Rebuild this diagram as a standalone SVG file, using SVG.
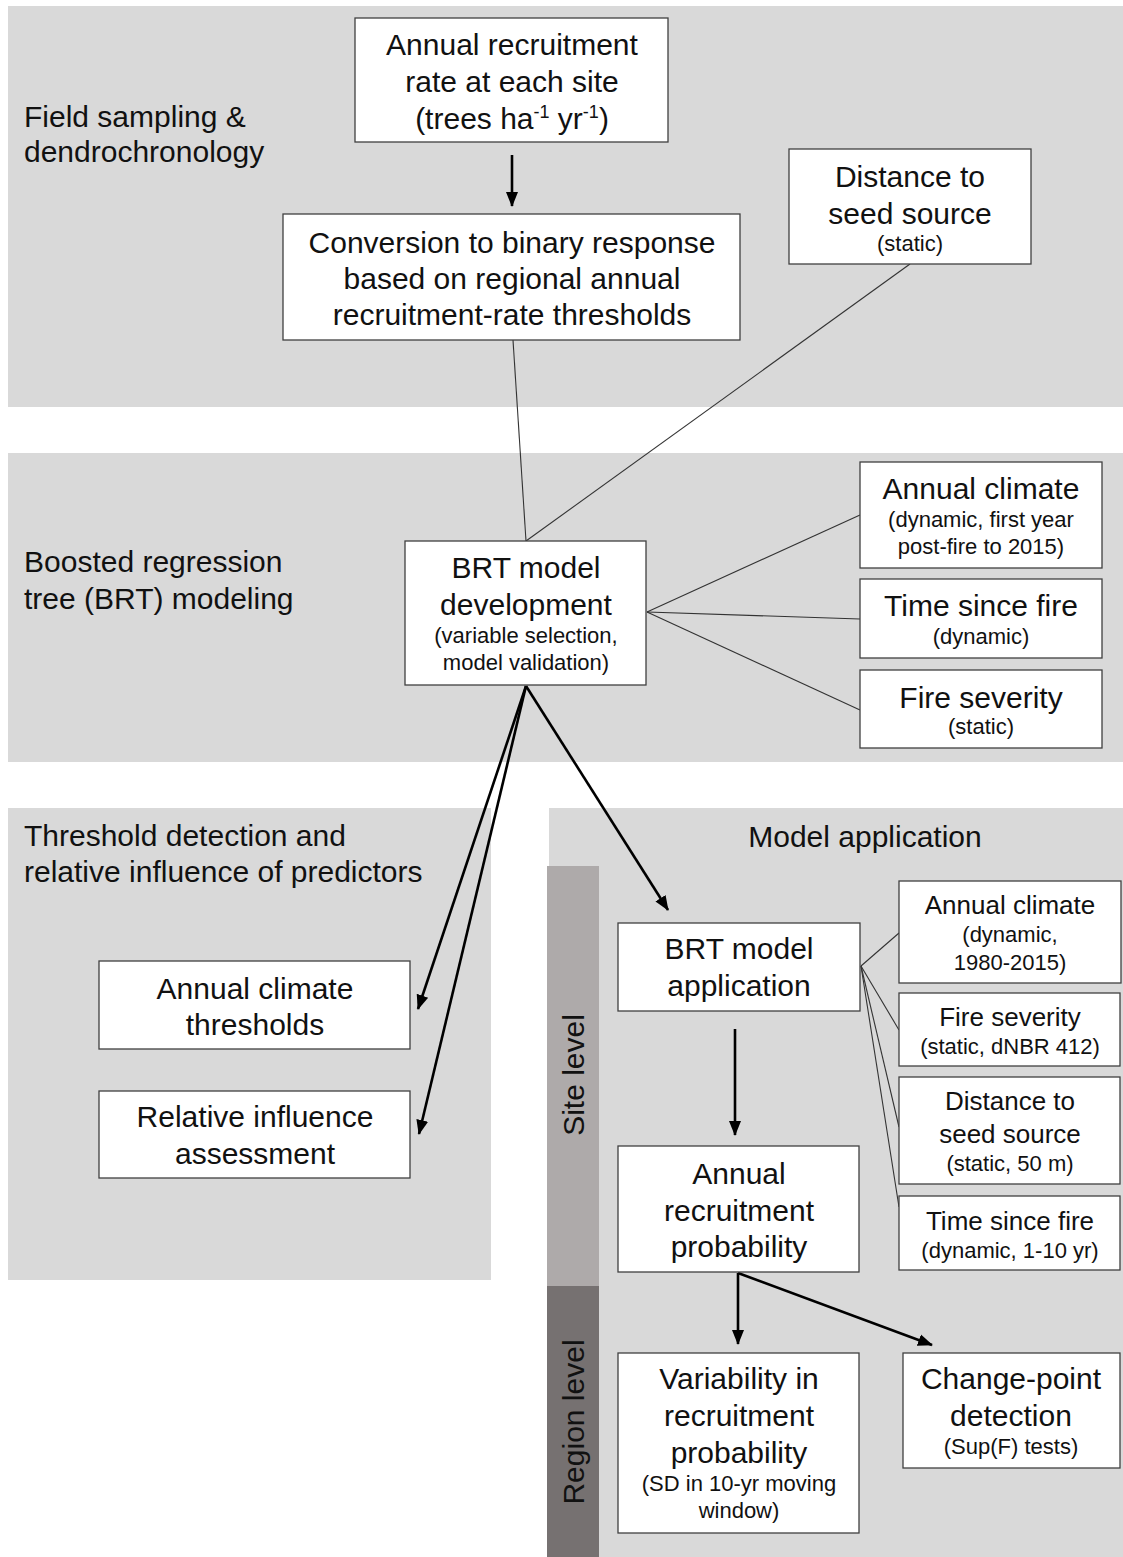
<svg xmlns="http://www.w3.org/2000/svg" width="1123" height="1557" viewBox="0 0 1123 1557">
<style>
.band{fill:#d9d9d9}
.box{fill:#fff;stroke:#404040;stroke-width:1.3}
text{font-family:"Liberation Sans",Arial,sans-serif;fill:#111}
.t{font-size:30px;text-anchor:middle}
.m{font-size:26px;text-anchor:middle}
.s{font-size:22px;text-anchor:middle}
.lab{font-size:30px}
.thin{stroke:#333;stroke-width:1.1;fill:none}
.arr{stroke:#000;stroke-width:2.6;fill:none;marker-end:url(#ah)}
</style>
<defs>
<marker id="ah" markerUnits="userSpaceOnUse" markerWidth="16" markerHeight="16" viewBox="0 0 16 16" refX="14" refY="8" orient="auto">
<path d="M0,2 L15,8 L0,14 Z" fill="#000"/>
</marker>
</defs>
<g id="backgrounds">
<rect class="band" x="8" y="6" width="1115" height="401"/>
<rect class="band" x="8" y="453" width="1115" height="309"/>
<rect class="band" x="8" y="808" width="483" height="472"/>
<rect class="band" x="549" y="808" width="574" height="749"/>
<rect x="547" y="866" width="52" height="420" fill="#aeaaaa"/>
<rect x="547" y="1286" width="52" height="271" fill="#767171"/>
</g>
<g id="section-labels">
<text class="lab" x="24" y="127">Field sampling &amp;</text>
<text class="lab" x="24" y="162">dendrochronology</text>
<text class="lab" x="24" y="572">Boosted regression</text>
<text class="lab" x="24" y="609">tree (BRT) modeling</text>
<text class="lab" x="24" y="846">Threshold detection and</text>
<text class="lab" x="24" y="882">relative influence of predictors</text>
<text class="t" x="865" y="847">Model application</text>
<text class="t" transform="translate(584,1075) rotate(-90)">Site level</text>
<text class="t" transform="translate(584,1422) rotate(-90)">Region level</text>
</g>
<g id="connectors">
<line class="arr" x1="512" y1="155" x2="512" y2="206"/>
<line class="thin" x1="513" y1="340" x2="526" y2="541"/>
<line class="thin" x1="910" y1="264" x2="526" y2="541"/>
<line class="thin" x1="647" y1="612" x2="860" y2="515"/>
<line class="thin" x1="647" y1="612" x2="860" y2="619"/>
<line class="thin" x1="647" y1="612" x2="860" y2="710"/>
<line class="arr" x1="526" y1="686" x2="418" y2="1009"/>
<line class="arr" x1="526" y1="686" x2="419" y2="1134"/>
<line class="arr" x1="526" y1="686" x2="668" y2="910"/>
<line class="arr" x1="735" y1="1029" x2="735" y2="1135"/>
<line class="thin" x1="861" y1="966" x2="899" y2="933"/>
<line class="thin" x1="861" y1="966" x2="899" y2="1030"/>
<line class="thin" x1="861" y1="966" x2="899" y2="1127"/>
<line class="thin" x1="861" y1="966" x2="899" y2="1207"/>
<line class="arr" x1="738" y1="1273" x2="738" y2="1344"/>
<line class="arr" x1="738" y1="1273" x2="932" y2="1345"/>
</g>
<g id="n-recruitment-rate">
<rect class="box" x="355" y="18" width="313" height="124"/>
<text class="t" x="512" y="55">Annual recruitment</text>
<text class="t" x="512" y="92">rate at each site</text>
<text class="t" x="512" y="129">(trees ha<tspan font-size="18" dy="-11">-1</tspan><tspan dy="11"> yr</tspan><tspan font-size="18" dy="-11">-1</tspan><tspan dy="11">)</tspan></text>
</g>
<g id="n-conversion">
<rect class="box" x="283" y="214" width="457" height="126"/>
<text class="t" x="512" y="253">Conversion to binary response</text>
<text class="t" x="512" y="289">based on regional annual</text>
<text class="t" x="512" y="325">recruitment-rate thresholds</text>
</g>
<g id="n-distance-top">
<rect class="box" x="789" y="149" width="242" height="115"/>
<text class="t" x="910" y="187">Distance to</text>
<text class="t" x="910" y="224">seed source</text>
<text class="s" x="910" y="251">(static)</text>
</g>
<g id="n-brt-dev">
<rect class="box" x="405" y="541" width="241" height="144"/>
<text class="t" x="526" y="578">BRT model</text>
<text class="t" x="526" y="615">development</text>
<text class="s" x="526" y="643">(variable selection,</text>
<text class="s" x="526" y="670">model validation)</text>
</g>
<g id="n-climate-top">
<rect class="box" x="860" y="462" width="242" height="106"/>
<text class="t" x="981" y="499">Annual climate</text>
<text class="s" x="981" y="527">(dynamic, first year</text>
<text class="s" x="981" y="554">post-fire to 2015)</text>
</g>
<g id="n-tsf-top">
<rect class="box" x="860" y="579" width="242" height="79"/>
<text class="t" x="981" y="616">Time since fire</text>
<text class="s" x="981" y="644">(dynamic)</text>
</g>
<g id="n-severity-top">
<rect class="box" x="860" y="670" width="242" height="78"/>
<text class="t" x="981" y="708">Fire severity</text>
<text class="s" x="981" y="734">(static)</text>
</g>
<g id="n-climate-thresholds">
<rect class="box" x="99" y="961" width="311" height="88"/>
<text class="t" x="255" y="999">Annual climate</text>
<text class="t" x="255" y="1035">thresholds</text>
</g>
<g id="n-relative-influence">
<rect class="box" x="99" y="1091" width="311" height="87"/>
<text class="t" x="255" y="1127">Relative influence</text>
<text class="t" x="255" y="1164">assessment</text>
</g>
<g id="n-brt-app">
<rect class="box" x="618" y="923" width="242" height="88"/>
<text class="t" x="739" y="959">BRT model</text>
<text class="t" x="739" y="996">application</text>
</g>
<g id="n-probability">
<rect class="box" x="618" y="1146" width="241" height="126"/>
<text class="t" x="739" y="1184">Annual</text>
<text class="t" x="739" y="1221">recruitment</text>
<text class="t" x="739" y="1257">probability</text>
</g>
<g id="n-variability">
<rect class="box" x="618" y="1353" width="241" height="180"/>
<text class="t" x="739" y="1389">Variability in</text>
<text class="t" x="739" y="1426">recruitment</text>
<text class="t" x="739" y="1463">probability</text>
<text class="s" x="739" y="1491">(SD in 10-yr moving</text>
<text class="s" x="739" y="1518">window)</text>
</g>
<g id="n-changepoint">
<rect class="box" x="903" y="1353" width="217" height="115"/>
<text class="t" x="1011" y="1389">Change-point</text>
<text class="t" x="1011" y="1426">detection</text>
<text class="s" x="1011" y="1454">(Sup(F) tests)</text>
</g>
<g id="n-climate-right">
<rect class="box" x="899" y="881" width="222" height="102"/>
<text class="m" x="1010" y="914">Annual climate</text>
<text class="s" x="1010" y="942">(dynamic,</text>
<text class="s" x="1010" y="970">1980-2015)</text>
</g>
<g id="n-severity-right">
<rect class="box" x="899" y="993" width="221" height="73"/>
<text class="m" x="1010" y="1026">Fire severity</text>
<text class="s" x="1010" y="1054">(static, dNBR 412)</text>
</g>
<g id="n-distance-right">
<rect class="box" x="899" y="1077" width="221" height="107"/>
<text class="m" x="1010" y="1110">Distance to</text>
<text class="m" x="1010" y="1143">seed source</text>
<text class="s" x="1010" y="1171">(static, 50 m)</text>
</g>
<g id="n-tsf-right">
<rect class="box" x="899" y="1196" width="221" height="74"/>
<text class="m" x="1010" y="1230">Time since fire</text>
<text class="s" x="1010" y="1258">(dynamic, 1-10 yr)</text>
</g>
</svg>
